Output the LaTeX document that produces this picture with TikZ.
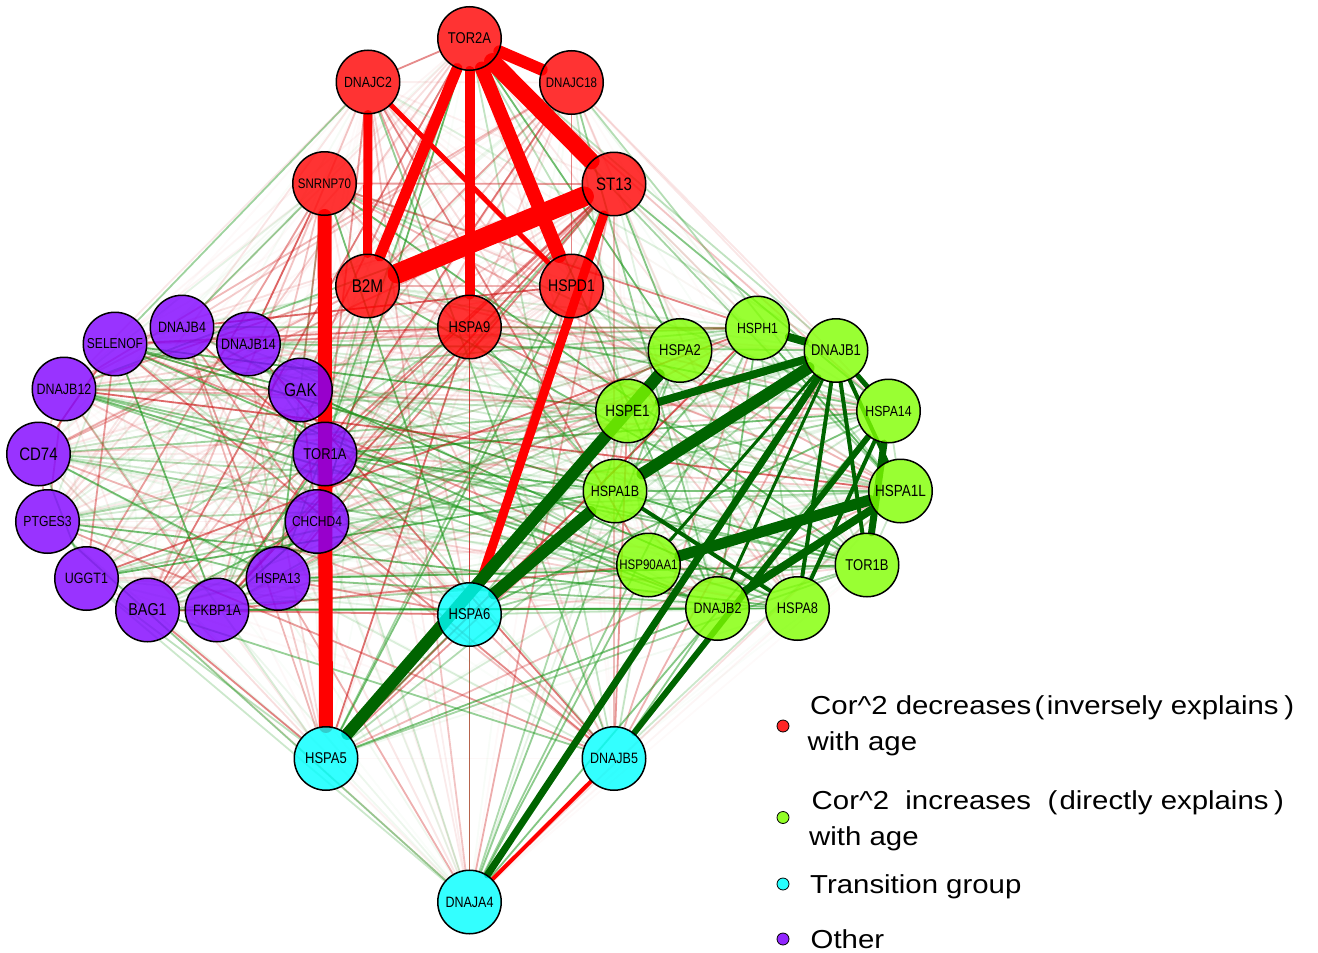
\documentclass[tikz,border=0pt]{standalone}
\usepackage{graphicx}
\usepackage{fontspec}
\setmainfont{Liberation Sans}
\pgfdeclarelayer{edges}
\pgfsetlayers{edges,main}
\definecolor{nr}{RGB}{255,0,0}
\definecolor{np}{RGB}{127,0,255}
\definecolor{ng}{RGB}{127,255,0}
\definecolor{nc}{RGB}{0,255,255}
\definecolor{er}{RGB}{205,25,25}
\definecolor{eg}{RGB}{25,150,25}
\definecolor{tg}{RGB}{0,100,0}
\tikzset{
  gnode/.style={circle, draw=black, line width=1.5pt, minimum size=63.5pt, inner sep=0pt,
    fill opacity=0.8, text opacity=1},
  redbar/.style={draw=nr, line cap=round},
  greenbar/.style={draw=tg, line cap=round},
  legdot/.style={circle, draw=black, line width=0.8pt, minimum size=12pt, inner sep=0pt,
    fill opacity=0.85},
  legtext/.style={anchor=base west, font=\fontsize{26}{26}\selectfont, inner sep=0pt}
}
\newcommand{\lab}[1]{\scalebox{1}[1.2]{#1}}
\newcommand{\legs}[1]{\scalebox{1.13}[1]{#1}}
\def\nodelist{TOR2A/469.5/38.5/nr/13/1.0, DNAJC2/368/82/nr/12.3/1.0, DNAJC18/571.5/82.5/nr/11.5/1.0,
SNRNP70/324.5/183.5/nr/11.5/1.0, ST13/614/184/nr/15/1.0, B2M/367.5/286/nr/15.3/1.0,
HSPD1/571.5/286/nr/14/1.0, HSPA9/469.5/327/nr/13/1.0,
DNAJB4/182/327/np/12.5/0.52, SELENOF/115/344/np/12/0.52, DNAJB14/248.5/344/np/12.5/0.52,
DNAJB12/64/389/np/12.5/0.52, GAK/300.5/390/np/15.5/0.52, CD74/38.5/454/np/15/0.52,
TOR1A/325/454/np/13/0.52, PTGES3/47.5/521.5/np/12.2/0.52, CHCHD4/317/521.5/np/12/0.52,
UGGT1/86.5/578.5/np/12.5/0.52, HSPA13/278/578.5/np/12/0.52, BAG1/147.5/610/np/14.3/0.52,
FKBP1A/217/610/np/12.5/0.52,
HSPH1/757.5/328/ng/12.3/0.1, HSPA2/680/350.5/ng/13/0.1, DNAJB1/836/350.5/ng/13/0.1,
HSPE1/627.5/411/ng/13.5/0.1, HSPA14/888.5/411/ng/12.3/0.1, HSPA1B/615/491/ng/12.5/0.1,
HSPA1L/900.5/491/ng/13.5/0.1, HSP90AA1/648.5/565/ng/11.5/0.1, TOR1B/867/565/ng/13/0.1,
DNAJB2/717.5/608.5/ng/12.5/0.1, HSPA8/797.5/608.5/ng/12.8/0.1,
HSPA6/469.5/614.5/nc/13/0.55, HSPA5/326/758.5/nc/13/0.55, DNAJB5/614/758.5/nc/12.5/0.55,
DNAJA4/469.5/902/nc/12.5/0.55}
\begin{document}
\begin{tikzpicture}[x=1pt,y=-1pt]
\useasboundingbox (0,0) rectangle (1318,953);
% nodes
\foreach \n/\x/\y/\c/\s/\r in \nodelist {
  \node[gnode, fill=\c, font=\fontsize{\s}{\s}\selectfont] (\n) at (\x,\y) {\lab{\n}};
}
% edges
\begin{pgfonlayer}{edges}
\pgfmathsetseed{7}
\foreach \a/\xa/\ya/\ca/\sa/\ra [count=\i] in \nodelist {
  \foreach \b/\xb/\yb/\cb/\sb/\rb [count=\j] in \nodelist {
    \ifnum\j>\i\relax
      \pgfmathsetmacro\op{0.02+0.68*rnd^2.5}
      \pgfmathsetmacro\isr{rnd<(\ra+\rb)/2}
      \ifdim\isr pt>0.5pt
        \draw[er, line width=1.8pt, draw opacity=\op] (\a) -- (\b);
      \else
        \draw[eg, line width=1.8pt, draw opacity=\op] (\a) -- (\b);
      \fi
    \fi
  }
}
% strong red edges
\draw[redbar, line width=5pt] (DNAJC2) -- (HSPD1);
\draw[redbar, line width=4pt] (DNAJA4) -- (DNAJB5);
\draw[redbar, line width=9pt] (ST13) -- (HSPA6);
\draw[redbar, line width=9pt] (DNAJC2) -- (B2M);
\draw[redbar, line width=10pt] (TOR2A) -- (HSPA9);
\draw[redbar, line width=11pt] (TOR2A) -- (B2M);
\draw[redbar, line width=12pt] (TOR2A) -- (DNAJC18);
\draw[redbar, line width=14pt] (TOR2A) -- (HSPD1);
\draw[redbar, line width=17pt] (TOR2A) -- (ST13);
\draw[redbar, line width=20pt] (B2M) -- (ST13);
\draw[redbar, line width=14pt] (SNRNP70) -- (HSPA5);
% strong green edges
\draw[greenbar, line width=3pt] (DNAJB1) -- (DNAJB2);
\draw[greenbar, line width=3pt] (DNAJB1) -- (HSP90AA1);
\draw[greenbar, line width=4pt] (DNAJB1) -- (HSPA8);
\draw[greenbar, line width=4pt] (DNAJB1) -- (TOR1B);
\draw[greenbar, line width=4pt] (DNAJB1) -- (HSPA1L);
\draw[greenbar, line width=4pt] (HSPA1B) -- (HSPA8);
\draw[greenbar, line width=4pt] (HSPA8) -- (HSPA14);
\draw[greenbar, line width=5pt] (DNAJB1) -- (HSPA14);
\draw[greenbar, line width=6pt] (DNAJB5) -- (HSPA14);
\draw[greenbar, line width=7pt] (DNAJA4) -- (DNAJB1);
\draw[greenbar, line width=7pt] (HSPA14) -- (TOR1B);
\draw[greenbar, line width=8pt] (DNAJB2) -- (HSPA1L);
\draw[greenbar, line width=11pt] (HSP90AA1) -- (HSPA1L);
\draw[greenbar, line width=8pt] (HSPH1) -- (DNAJB1);
\draw[greenbar, line width=8pt] (HSPE1) -- (DNAJB1);
\draw[greenbar, line width=12pt] (HSPA1B) -- (DNAJB1);
\draw[greenbar, line width=12pt] (HSPA6) -- (HSPA1B);
\draw[greenbar, line width=12pt] (HSPA5) -- (HSPA2);
\end{pgfonlayer}
% legend
\node[legdot, fill=nr] (d1) at (783,726) {};
\node[legtext] (t1a) at (810,714) {\legs{Cor\textasciicircum2 decreases\hspace{3pt}(\hspace{2pt}inversely explains\hspace{5pt})}};
\node[legtext] (t1b) at (807.5,750.5) {\legs{with age}};
\node[legdot, fill=ng] (d2) at (783,817.5) {};
\node[legtext] (t2a) at (811.5,809) {\legs{Cor\textasciicircum2\ \ increases\ \ (\hspace{2pt}directly explains\hspace{5pt})}};
\node[legtext] (t2b) at (809,845.5) {\legs{with age}};
\node[legdot, fill=nc] (d3) at (783,884) {};
\node[legtext] (t3) at (810,893) {\legs{Transition group}};
\node[legdot, fill=np] (d4) at (783,939) {};
\node[legtext] (t4) at (810.5,948) {\legs{Other}};
\end{tikzpicture}
\end{document}
